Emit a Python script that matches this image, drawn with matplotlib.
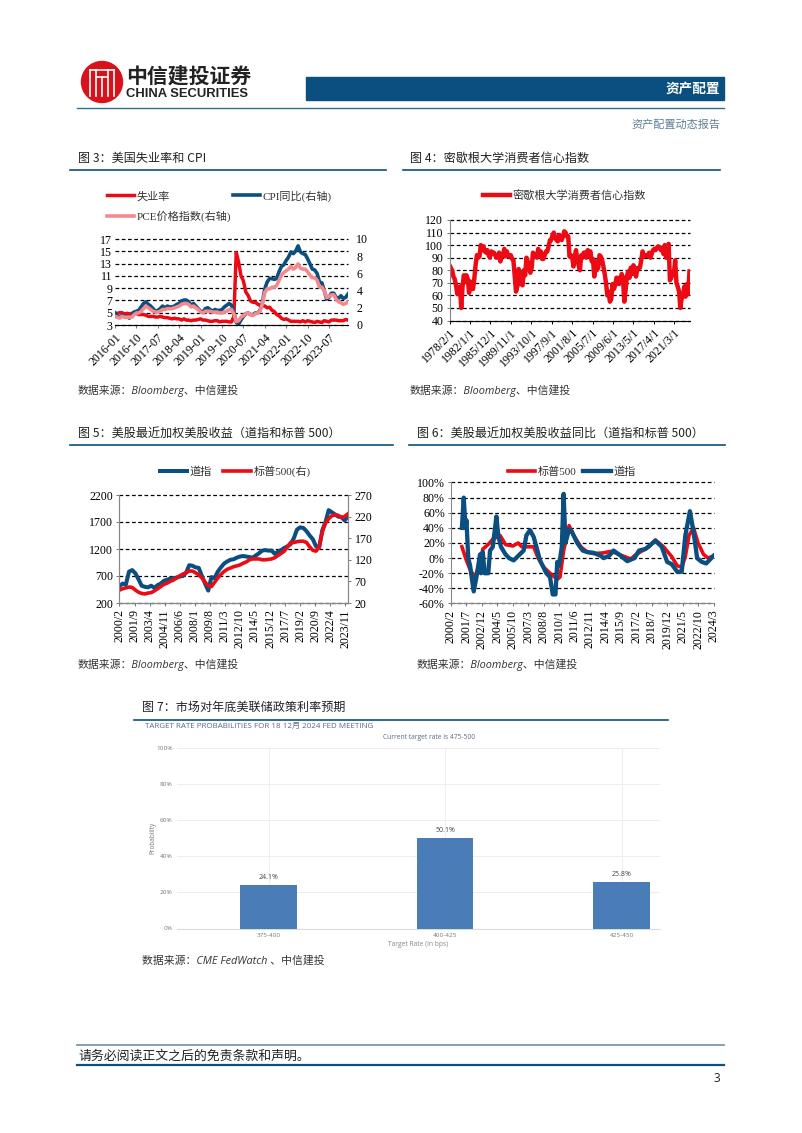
import numpy as np
import matplotlib
matplotlib.use('Agg')
import matplotlib.pyplot as plt
from matplotlib.patches import Circle, Rectangle

SERIF = ['Liberation Serif', 'Noto Sans CJK SC']
SANS = ['Noto Sans CJK SC', 'DejaVu Sans']
ITALIC = ['Open Sans', 'Noto Sans CJK SC']
plt.rcParams['font.family'] = SERIF

RED = '#EC0A14'
BLUE = '#0B4F80'
PINK = '#F58A8E'
BAR = '#4A7DB8'
W, H = 802, 1133

# Figure 3 (monthly, 2016-01 to 2024-03)
unemp = [4.9, 4.9, 5.0, 5.0, 4.8, 4.9, 4.8, 4.9, 5.0, 4.9, 4.7, 4.7,
         4.7, 4.6, 4.4, 4.4, 4.4, 4.3, 4.3, 4.4, 4.3, 4.2, 4.2, 4.1,
         4.0, 4.1, 4.0, 4.0, 3.8, 4.0, 3.8, 3.8, 3.7, 3.8, 3.8, 3.9,
         4.0, 3.8, 3.8, 3.7, 3.6, 3.6, 3.7, 3.7, 3.5, 3.6, 3.6, 3.6,
         3.5, 3.5, 4.4, 14.8, 13.2, 11.0, 10.2, 8.4, 7.8, 6.9, 6.7, 6.7,
         6.4, 6.2, 6.1, 6.1, 5.8, 5.9, 5.4, 5.2, 4.7, 4.5, 4.1, 3.9,
         4.0, 3.8, 3.6, 3.6, 3.6, 3.6, 3.5, 3.7, 3.5, 3.7, 3.6, 3.5,
         3.4, 3.6, 3.5, 3.4, 3.7, 3.6, 3.5, 3.8, 3.8, 3.8, 3.7, 3.7,
         3.7, 3.9, 3.8]
cpi = [1.4, 1.0, 0.9, 1.1, 1.0, 1.0, 0.8, 1.1, 1.5, 1.6, 1.7, 2.1,
       2.5, 2.7, 2.4, 2.2, 1.9, 1.6, 1.7, 1.9, 2.2, 2.0, 2.2, 2.1,
       2.1, 2.2, 2.4, 2.5, 2.8, 2.9, 2.9, 2.7, 2.3, 2.5, 2.2, 1.9,
       1.6, 1.5, 1.9, 2.0, 1.8, 1.6, 1.8, 1.7, 1.7, 1.8, 2.1, 2.3,
       2.5, 2.3, 1.5, 0.3, 0.1, 0.6, 1.0, 1.3, 1.4, 1.2, 1.2, 1.4,
       1.4, 1.7, 2.6, 4.2, 5.0, 5.4, 5.4, 5.3, 5.4, 6.2, 6.8, 7.0,
       7.5, 7.9, 8.5, 8.3, 8.6, 9.2, 8.5, 8.3, 8.2, 7.7, 7.1, 6.5,
       6.4, 6.0, 5.0, 4.9, 4.0, 3.0, 3.2, 3.7, 3.7, 3.2, 3.1, 3.4,
       3.1, 3.2, 3.6]
pce = [1.0, 0.9, 0.8, 1.0, 0.9, 0.9, 0.9, 0.9, 1.2, 1.4, 1.4, 1.6,
       1.9, 2.2, 2.0, 1.8, 1.6, 1.5, 1.5, 1.6, 1.8, 1.8, 1.9, 1.9,
       1.9, 2.0, 2.1, 2.2, 2.4, 2.5, 2.5, 2.4, 2.1, 2.2, 2.0, 1.8,
       1.5, 1.4, 1.6, 1.6, 1.6, 1.5, 1.5, 1.5, 1.4, 1.4, 1.5, 1.6,
       1.8, 1.8, 1.3, 0.4, 0.5, 0.9, 1.1, 1.3, 1.4, 1.2, 1.1, 1.3,
       1.4, 1.6, 2.5, 3.8, 4.2, 4.2, 4.4, 4.4, 4.6, 5.2, 5.8, 6.1,
       6.3, 6.5, 6.8, 6.5, 6.7, 7.1, 6.6, 6.5, 6.5, 6.2, 5.8, 5.5,
       5.5, 5.2, 4.4, 4.4, 4.0, 3.2, 3.3, 3.5, 3.5, 3.0, 2.7, 2.6,
       2.4, 2.5, 2.7]
ticks3 = ['2016-01', '2016-10', '2017-07', '2018-04', '2019-01', '2019-10',
          '2020-07', '2021-04', '2022-01', '2022-10', '2023-07']

# Figure 4 (read every 3 months from 1978/2)
sentiment = [84, 82, 80, 75, 73, 68, 61, 63, 67, 50, 67, 76, 71, 76, 73, 62,
             71, 67, 65, 73, 84, 92, 90, 91, 100, 96, 99, 95, 94, 96, 92, 90,
             95, 94, 94, 92, 90, 91, 94, 87, 91, 92, 97, 91, 95, 91, 92, 92,
             89, 88, 76, 63, 67, 81, 78, 69, 68, 80, 76, 90, 87, 82, 78, 82,
             94, 92, 91, 90, 97, 92, 95, 89, 89, 92, 95, 95, 99, 104, 104, 108,
             110, 106, 104, 103, 108, 106, 104, 107, 111, 110, 107, 107, 91, 92, 91, 83,
             91, 96, 88, 84, 80, 92, 90, 94, 94, 90, 96, 92, 95, 87, 89, 75,
             87, 80, 82, 92, 91, 88, 83, 77, 70, 60, 63, 55, 57, 69, 65, 68,
             74, 74, 69, 71, 77, 74, 55, 64, 75, 79, 74, 82, 77, 84, 82, 75,
             81, 82, 82, 88, 95, 91, 92, 92, 91, 94, 90, 93, 96, 97, 96, 98,
             99, 98, 96, 98, 93, 100, 90, 96, 101, 72, 74, 77, 77, 88, 70, 67,
             63, 50, 58, 59, 67, 59, 69, 61, 79]
ticks4 = ['1978/2/1', '1982/1/1', '1985/12/1', '1989/11/1', '1993/10/1', '1997/9/1',
          '2001/8/1', '2005/7/1', '2009/6/1', '2013/5/1', '2017/4/1', '2021/3/1']

# Figure 5 (read every 4 months from 2000/2)
dow = [510, 560, 540, 780, 810, 750, 640, 520, 500, 490, 520, 480, 530, 560, 610, 630,
       650, 660, 670, 690, 700, 760, 900, 890, 860, 850, 700, 560, 430, 680, 660, 780,
       860, 930, 970, 1000, 1010, 1040, 1060, 1070, 1060, 1050, 1040, 1080, 1120, 1170, 1180, 1170,
       1170, 1110, 1150, 1180, 1220, 1250, 1290, 1400, 1560, 1600, 1590, 1530, 1450, 1380, 1250, 1230,
       1550, 1700, 1920, 1880, 1840, 1800, 1790, 1730, 1790]
spx = [50, 53, 55, 57, 56, 50, 45, 42, 41, 43, 44, 48, 53, 58, 63, 66,
       70, 73, 78, 83, 87, 90, 94, 94, 90, 85, 78, 68, 60, 58, 68, 78,
       86, 93, 98, 101, 104, 106, 108, 112, 115, 120, 122, 122, 122, 120, 120, 121,
       122, 125, 130, 135, 140, 150, 160, 160, 162, 163, 163, 160, 150, 142, 140, 150,
       185, 205, 215, 222, 224, 223, 218, 220, 226]
ticks5 = ['2000/2', '2001/9', '2003/4', '2004/11', '2006/6', '2008/1', '2009/8', '2011/3',
          '2012/10', '2014/5', '2015/12', '2017/7', '2019/2', '2020/9', '2022/4', '2023/11']

# Figure 6 (months since 2000/2, value in %)
dow_m = [12, 14, 16, 17, 19, 21, 25, 28, 32, 33, 35, 37, 41, 43, 46, 50, 52, 55, 60, 64, 69, 74, 80,
         83, 87, 91, 94, 98, 105, 109, 112, 115, 117, 119, 122, 124, 126, 130, 133, 139, 145, 150, 157,
         165, 168, 174, 179, 187, 194, 202, 207, 214, 225, 232, 238, 243, 249, 254, 258, 263, 267, 271, 276, 281, 289]
dow_yoy = [40, 80, 40, 50, 0, -10, -44, -25, 5, -20, 8, -20, -20, 10, 15, 55, 30, 15, 5, 0, -3, 3, 10,
           30, 37, 28, 15, -3, -20, -25, -48, -48, -5, -10, 15, 85, 20, 38, 35, 20, 10, 8,
           7, 3, 0, 3, 10, 3, -4, 0, 10, 12, 23, 15, -5, -8, -18, -18, 30, 62, 35, 0, -5, -7, 3]
spx_m = [12, 17, 21, 26, 32, 35, 41, 46, 54, 60, 68, 74, 78, 85, 91, 96, 102, 109, 117, 120, 124, 130, 135,
         143, 150, 157, 168, 176, 183, 191, 198, 204, 211, 218, 225, 234, 243, 249, 254, 258, 262, 267, 272, 278, 283, 289]
spx_yoy = [15, -3, -15, -25, -8, 12, 18, 25, 30, 18, 16, 20, 15, 15, 15, 0, -12, -20, -28, -25, 10, 43, 30,
           15, 8, 6, 7, 9, 6, 2, -1, 5, 10, 15, 24, 15, 2, -10, -12, 2, 30, 40, 20, 5, 0, 3]
ticks6 = ['2000/2', '2001/7', '2002/12', '2004/5', '2005/10', '2007/3', '2008/8', '2010/1', '2011/6',
          '2012/11', '2014/4', '2015/9', '2017/2', '2018/7', '2019/12', '2021/5', '2022/10', '2024/3']

# Figure 7
rates = ['375-400', '400-425', '425-450']
probs = [24.1, 50.1, 25.8]


def panel(l, t, r, b):
    return fig.add_axes([l / W, 1 - b / H, (r - l) / W, (b - t) / H])


def style(ax, xlim, ylim, step, labels, rot, visible=('left', 'bottom')):
    ax.set_xlim(*xlim)
    ax.set_ylim(*ylim)
    ax.set_xticks(np.arange(len(labels)) * step)
    ha = 'right' if rot == 45 else 'center'
    ax.set_xticklabels(labels, rotation=rot, ha=ha, rotation_mode='anchor' if rot == 45 else None)
    ax.tick_params(axis='both', labelsize=8.6, length=2.5, width=0.7, color='#777777', pad=2)
    ax.grid(axis='y', color='black', linestyle=(0, (3, 2)), linewidth=0.9)
    ax.set_axisbelow(True)
    for s in ax.spines:
        ax.spines[s].set_visible(s in visible)
        ax.spines[s].set_color('#888888')
        ax.spines[s].set_linewidth(0.8)


def open_gridlines(ax):
    # the top dashed line sits right on the axes edge
    for line in ax.get_ygridlines():
        line.set_clip_on(False)


def legend(ax, handles, x, y, ncol, size=8, spacing=0.5):
    ax.legend(handles=handles, loc='center left', bbox_to_anchor=(x, y), bbox_transform=bg.transData,
              ncol=ncol, frameon=False, fontsize=size, handlelength=2.45, handletextpad=0.25,
              columnspacing=spacing, borderpad=0, borderaxespad=0, labelspacing=0.8, labelcolor='#333333')


fig = plt.figure(figsize=(W / 100, H / 100), dpi=100)

# page furniture, in reference pixel coordinates
bg = fig.add_axes([0, 0, 1, 1])
bg.set_xlim(0, W)
bg.set_ylim(H, 0)
bg.axis('off')

bg.add_patch(Circle((102, 82), 20.5, color='#D8121B'))
for dx in (-12, -6, 6, 12):
    bg.plot([102 + dx, 102 + dx], [70, 96], color='white', lw=1.2)
bg.plot([90, 114], [70, 70], color='white', lw=1.2)
bg.plot([97, 107], [77, 77], color='white', lw=1.2)
bg.plot([102, 102], [77, 96], color='white', lw=1.2)
bg.text(126, 76, '中信建投证券', family=SANS, fontsize=15, fontweight='bold', color='#222222', va='center')
bg.text(126, 94, 'CHINA SECURITIES', family='Liberation Sans', fontsize=9.4, fontweight='bold',
        color='#222222', va='center')
bg.add_patch(Rectangle((305.5, 77), 418.5, 22.5, color='#0B4F80'))
bg.text(720, 88.5, '资产配置', family=SANS, fontsize=9.8, fontweight='bold', color='white', ha='right', va='center')
bg.plot([77, 724], [107.5, 107.5], color='#2F6F96', lw=1)
bg.text(720, 124.5, '资产配置动态报告', fontsize=8, color='#5F7F97', ha='right', va='center')

bg.plot([77, 724], [1045, 1045], color='#7A9AA8', lw=1.3)
bg.text(78, 1056, '请务必阅读正文之后的免责条款和声明。', fontsize=9.3, color='#222222', va='center')
bg.plot([77, 724], [1065.3, 1065.3], color='#0B4F80', lw=1.6)
bg.text(720, 1078, '3', family='Open Sans', fontsize=8.5, color='#222222', ha='right', va='center')

titles = [('图 3：美国失业率和 CPI', 78, 158.5, 70, 386, 170),
          ('图 4：密歇根大学消费者信心指数', 410, 158.5, 403, 720, 170),
          ('图 5：美股最近加权美股收益（道指和标普 500）', 78, 433, 70, 393, 445),
          ('图 6：美股最近加权美股收益同比（道指和标普 500）', 417, 433, 409, 725, 444.5),
          ('图 7：市场对年底美联储政策利率预期', 142, 707, 134, 668, 719.5)]
for txt, x, y, x0, x1, yline in titles:
    bg.text(x, y, txt, family=SANS, fontsize=8.7, color='#222222', va='center')
    bg.plot([x0, x1], [yline, yline], color='#0B4F80', lw=1.2)

sources = [('数据来源：Bloomberg、中信建投', 78, 391), ('数据来源：Bloomberg、中信建投', 410, 391),
           ('数据来源：Bloomberg、中信建投', 78, 665), ('数据来源：Bloomberg、中信建投', 417, 665),
           ('数据来源：CME FedWatch 、中信建投', 142, 961)]
for txt, x, y in sources:
    bg.text(x, y, txt, family=ITALIC, style='italic', fontsize=7.8, color='#333333', va='center')

# 3. Unemployment and CPI
# ---------------------------------------------------------
ax3 = panel(115, 239, 348, 325)
style(ax3, (0, 98), (3, 17), 9, ticks3, 45, visible=('bottom',))
ax3.set_yticks(np.arange(3, 18, 2))
ax3.spines['bottom'].set_color('black')
ax3.tick_params(axis='y', length=0)
open_gridlines(ax3)
h1, = ax3.plot(unemp, color=RED, lw=2.5, label='失业率')
ax3r = ax3.twinx()
ax3r.set_ylim(0, 10)
ax3r.set_yticks(np.arange(0, 11, 2))
ax3r.tick_params(axis='y', labelsize=8.6, length=0, pad=6)
for s in ax3r.spines.values():
    s.set_visible(False)
h2, = ax3r.plot(cpi, color=BLUE, lw=2.6, label='CPI同比(右轴)')
h3, = ax3r.plot(pce, color=PINK, lw=2.6, label='PCE价格指数(右轴)')
legend(ax3r, [h1, h3, h2], 107, 206, 2, size=8, spacing=0.1)

# 4. Michigan consumer sentiment
# ---------------------------------------------------------
ax4 = panel(449.5, 220, 689.5, 320.5)
style(ax4, (0, 552), (40, 120), 47, ticks4, 45)
ax4.set_yticks(np.arange(40, 121, 10))
ax4.spines['bottom'].set_color('black')
ax4.tick_params(axis='x', color='black')
open_gridlines(ax4)
h4, = ax4.plot(np.arange(len(sentiment)) * 3, sentiment, color=RED, lw=3.2, label='密歇根大学消费者信心指数')
legend(ax4, [h4], 483, 195, 1)

# 5. Weighted earnings
# ---------------------------------------------------------
ax5 = panel(119.5, 495, 348.5, 603)
style(ax5, (0, 289), (200, 2200), 19, ticks5, 90, visible=('left', 'bottom', 'right'))
ax5.set_yticks(np.arange(200, 2201, 500))
open_gridlines(ax5)
h5, = ax5.plot(np.arange(len(dow)) * 4, dow, color=BLUE, lw=2.9, label='道指')
ax5r = ax5.twinx()
ax5r.set_ylim(20, 270)
ax5r.set_yticks(np.arange(20, 271, 50))
ax5r.tick_params(axis='y', labelsize=8.6, length=2.5, width=0.7, color='#777777', pad=2)
for s in ax5r.spines.values():
    s.set_color('#888888')
    s.set_linewidth(0.8)
ax5r.spines['top'].set_visible(False)
h6, = ax5r.plot(np.arange(len(spx)) * 4, spx, color=RED, lw=2.6, label='标普500(右)')
legend(ax5r, [h5, h6], 160, 471, 2, spacing=1.0)

# 6. Weighted earnings yoy
# ---------------------------------------------------------
ax6 = panel(451, 482.5, 713.5, 603.5)
style(ax6, (0, 289), (-60, 100), 17, ticks6, 90)
ax6.set_yticks(np.arange(-60, 101, 20))
ax6.set_yticklabels([f'{v}%' for v in range(-60, 101, 20)])
open_gridlines(ax6)
h7, = ax6.plot(spx_m, spx_yoy, color=RED, lw=2.6, label='标普500')
h8, = ax6.plot(dow_m, dow_yoy, color=BLUE, lw=3.1, label='道指')
legend(ax6, [h7, h8], 508, 472, 2, spacing=0.6)

# 7. CME FedWatch snapshot
# ---------------------------------------------------------
ax7 = panel(177, 748, 660, 928.5)
xs = np.arange(len(rates))
ax7.bar(xs, probs, width=0.322, color=BAR, zorder=3)
ax7.set_xlim(-0.519, 2.218)
ax7.set_ylim(0, 100)
ax7.set_yticks(np.arange(0, 101, 20))
ax7.set_yticklabels([f'{v}%' for v in range(0, 101, 20)])
ax7.set_xticks(xs)
ax7.set_xticklabels(rates)
ax7.tick_params(labelsize=4.6, length=0, labelcolor='#777777', pad=3)
for lab in ax7.get_xticklabels() + ax7.get_yticklabels():
    lab.set_family('Open Sans')
ax7.grid(color='#EEEEEE', linewidth=0.8)
ax7.set_axisbelow(True)
for s in ax7.spines:
    ax7.spines[s].set_visible(s == 'bottom')
ax7.spines['bottom'].set_color('#D8DCE2')
for x, p in zip(xs, probs):
    ax7.text(x, p + 2, f'{p}%', family='Open Sans', fontsize=5, color='#444444', ha='center', va='bottom')
ax7.set_xlabel('Target Rate (in bps)', family='Open Sans', fontsize=4.8, color='#888888', labelpad=2.5)
ax7.set_ylabel('Probability', family='Open Sans', fontsize=4.7, color='#777777', labelpad=0)
bg.text(145, 726, 'TARGET RATE PROBABILITIES FOR 18 12月 2024 FED MEETING', family=['Open Sans', 'Noto Sans CJK SC'],
        fontsize=5.8, color='#5A6A82', va='center')
bg.text(429, 737.5, 'Current target rate is 475-500', family='Open Sans', fontsize=4.8, color='#5A6A82',
        ha='center', va='center')

fig.savefig('out.png', dpi=100)
